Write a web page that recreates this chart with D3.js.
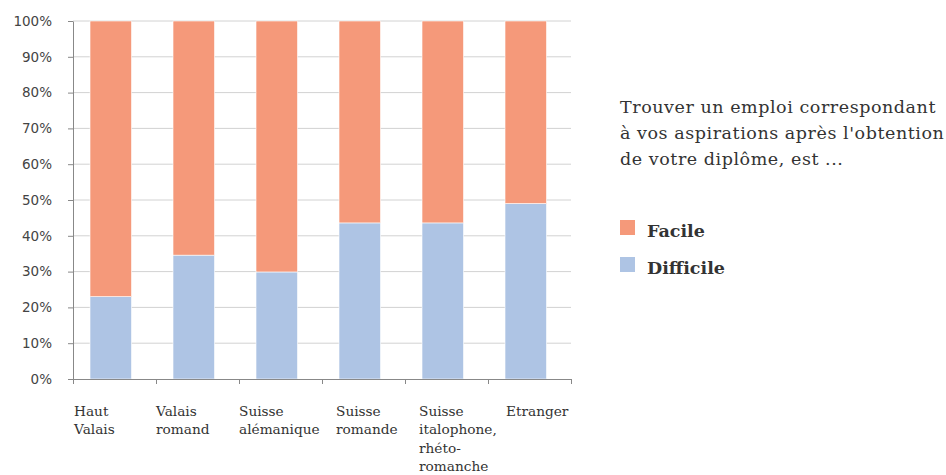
<!DOCTYPE html>
<html><head><meta charset="utf-8">
<script src="https://cdn.jsdelivr.net/npm/d3@7"></script>
<style>body{margin:0;background:#fff}</style>
</head><body>
<svg id="c" width="946" height="475"></svg>
<script>
const categories = [["Haut","Valais"],["Valais","romand"],["Suisse","alémanique"],["Suisse","romande"],["Suisse","italophone,","rhéto-","romanche"],["Etranger"]];
const difficile = [23.0, 34.6, 29.9, 43.6, 43.6, 49.0];
const facile = difficile.map(d => 100 - d);
const yTicks = [0,10,20,30,40,50,60,70,80,90,100];
const seriesNames = ["Difficile","Facile"];
const colors = {Facile:"#f5997a", Difficile:"#aec4e4"};
const titleLines = ["Trouver un emploi correspondant","à vos aspirations après l'obtention","de votre diplôme, est ..."];

const svg = d3.select("#c");
const m = {l:73, r:571, t:21, b:379};
const x = d3.scaleBand().domain(d3.range(categories.length)).range([m.l, m.r])
  .paddingInner(0.5).paddingOuter(0.25).align(0.41);
const y = d3.scaleLinear().domain([0,100]).range([m.b, m.t]);

// gridlines
svg.append("g").selectAll("line").data(yTicks.filter(d=>d>0)).join("line")
  .attr("x1", m.l).attr("x2", m.r).attr("y1", d=>y(d)).attr("y2", d=>y(d))
  .attr("stroke","#d2d2d2").attr("stroke-width",1);

const rows = categories.map((c,i)=>({i, Difficile:difficile[i], Facile:facile[i]}));
const stack = d3.stack().keys(seriesNames)(rows);
svg.append("g").selectAll("g").data(stack).join("g")
  .attr("fill", s=>colors[s.key])
  .selectAll("rect").data(s=>s).join("rect")
  .attr("x", d=>x(d.data.i)).attr("width", x.bandwidth())
  .attr("y", d=>y(d[1])).attr("height", d=>y(d[0])-y(d[1]))
  .attr("stroke","#fff").attr("stroke-width",0.6);

// y axis
const yAxis = svg.append("g").attr("transform",`translate(${m.l},0)`)
  .call(d3.axisLeft(y).tickValues(yTicks).tickFormat(d=>d+"%").tickSize(5).tickPadding(16).tickSizeOuter(0));
yAxis.select(".domain").attr("stroke","#888");
yAxis.selectAll(".tick line").attr("stroke","#888");
yAxis.selectAll("text").attr("font-family","DejaVu Sans, sans-serif").attr("font-size",13.5).attr("fill","#444");

// x axis
const xb = d3.scaleLinear().domain([0,categories.length]).range([m.l,m.r]);
const xAxis = svg.append("g").attr("transform",`translate(0,${m.b})`)
  .call(d3.axisBottom(xb).tickValues(d3.range(categories.length+1)).tickFormat("").tickSize(5).tickSizeOuter(0));
xAxis.select(".domain").attr("stroke","#888");
xAxis.selectAll(".tick line").attr("stroke","#888");

const labelDx = [1,0,0,14,14,18];
const labels = svg.append("g").selectAll("text").data(categories).join("text")
  .attr("x",(d,i)=>xb(i)+labelDx[i]).attr("y",416)
  .attr("font-family","DejaVu Serif, serif").attr("font-size",13.7).attr("fill","#333");
labels.selectAll("tspan").data(d=>d).join("tspan")
  .attr("x",function(){return this.parentNode.getAttribute("x");})
  .attr("dy",(d,i)=>i===0?0:18.3).text(d=>d);

// legend
svg.append("g").selectAll("text").data(titleLines).join("text")
  .attr("x",620).attr("y",(d,i)=>113+i*26)
  .attr("font-family","DejaVu Serif, serif").attr("font-size",17.5).attr("letter-spacing",0.55)
  .attr("fill","#333").text(d=>d);
const leg = svg.append("g").selectAll("g").data(["Facile","Difficile"]).join("g")
  .attr("transform",(d,i)=>`translate(620,${220+i*37})`);
leg.append("rect").attr("width",15).attr("height",15).attr("fill",d=>colors[d]);
leg.append("text").attr("x",27).attr("y",17).attr("font-family","DejaVu Serif, serif")
  .attr("font-weight","bold").attr("font-size",17.5).attr("fill","#333").text(d=>d);
</script>
</body></html>
